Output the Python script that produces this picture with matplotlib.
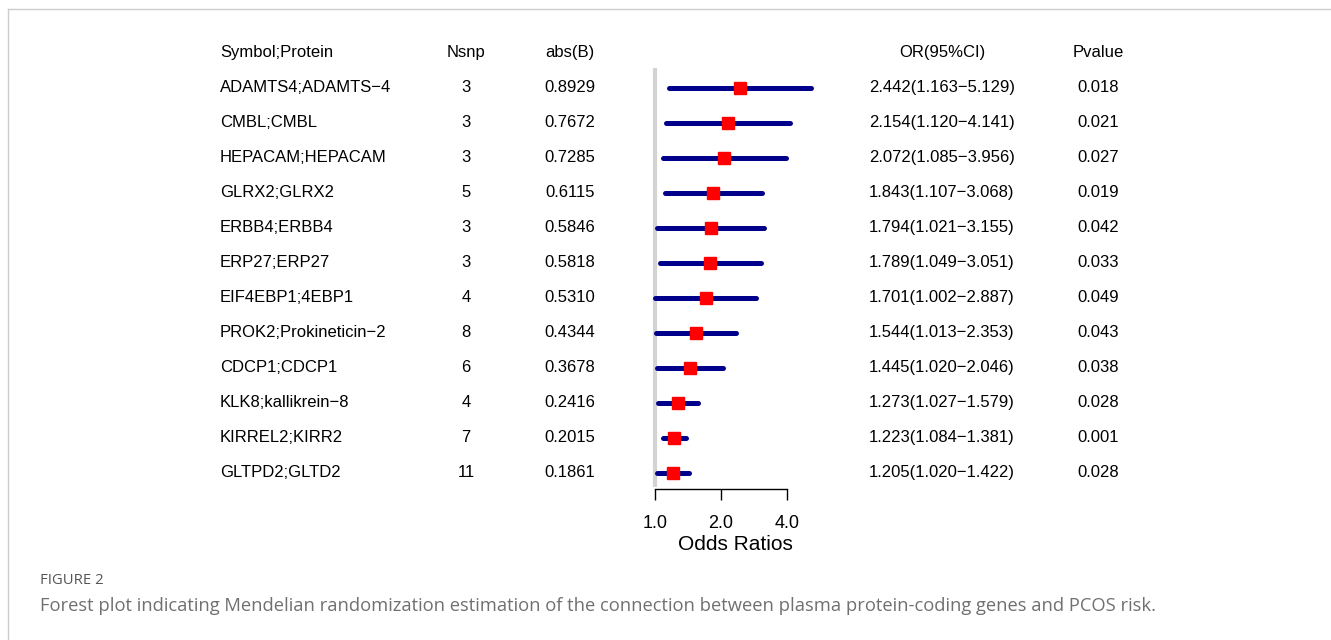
import numpy as np
import matplotlib.pyplot as plt
from matplotlib import transforms
from matplotlib.lines import Line2D

plt.rcParams['font.family'] = ['Liberation Sans', 'DejaVu Sans']

# data
symbols = ['ADAMTS4;ADAMTS\u22124', 'CMBL;CMBL', 'HEPACAM;HEPACAM', 'GLRX2;GLRX2',
           'ERBB4;ERBB4', 'ERP27;ERP27', 'EIF4EBP1;4EBP1', 'PROK2;Prokineticin\u22122',
           'CDCP1;CDCP1', 'KLK8;kallikrein\u22128', 'KIRREL2;KIRR2', 'GLTPD2;GLTD2']
nsnp = [3, 3, 3, 5, 3, 3, 4, 8, 6, 4, 7, 11]
absb = ['0.8929', '0.7672', '0.7285', '0.6115', '0.5846', '0.5818',
        '0.5310', '0.4344', '0.3678', '0.2416', '0.2015', '0.1861']
odds = [2.442, 2.154, 2.072, 1.843, 1.794, 1.789, 1.701, 1.544, 1.445, 1.273, 1.223, 1.205]
lower = [1.163, 1.120, 1.085, 1.107, 1.021, 1.049, 1.002, 1.013, 1.020, 1.027, 1.084, 1.020]
upper = [5.129, 4.141, 3.956, 3.068, 3.155, 3.051, 2.887, 2.353, 2.046, 1.579, 1.381, 1.422]
pvals = ['0.018', '0.021', '0.027', '0.019', '0.042', '0.033',
         '0.049', '0.043', '0.038', '0.028', '0.001', '0.028']
xticks = [1.0, 2.0, 4.0]

W, H = 1331, 640
fig = plt.figure(figsize=(W / 100, H / 100), dpi=100)

# forest panel, placed so that 1.0 sits at x=655px and 4.0 at x=787px
px_per_log2 = 66.0
left_px, right_px = 630, 840
top_px, bot_px = 60, 489
row0, step = 87.5, 35
ax = fig.add_axes([left_px / W, 1 - bot_px / H, (right_px - left_px) / W, (bot_px - top_px) / H])
ax.set_xscale('log', base=2)
ax.set_xlim(2 ** ((left_px - 655) / px_per_log2), 2 ** ((right_px - 655) / px_per_log2))
ax.set_ylim((bot_px - row0) / step, (top_px - row0) / step)

rows = np.arange(len(symbols))
ax.vlines(1.0, (68 - row0) / step, (487 - row0) / step, color='#d3d3d3', lw=3, zorder=1)
ci = ax.hlines(rows, lower, upper, color='#00008b', lw=3.6, zorder=2)
ci.set_capstyle('round')
ax.plot(odds, rows, 's', color='#ff0000', ms=9, zorder=3)

for s in ['top', 'right', 'left']:
    ax.spines[s].set_visible(False)
ax.spines['bottom'].set_bounds(1.0, 4.0)
ax.spines['bottom'].set_linewidth(1.0)
ax.set_yticks([])
ax.set_xticks(xticks)
ax.set_xticklabels(['%.1f' % t for t in xticks], fontsize=13)
ax.minorticks_off()
ax.tick_params(axis='x', length=8, width=1.0, pad=11)
ax.set_xlabel('Odds Ratios', fontsize=15, labelpad=2)
ax.patch.set_alpha(0)

# table columns
tr = transforms.blended_transform_factory(fig.transFigure, ax.transData)
fs = 12
hdr_y = (52.5 - row0) / step
ax.text(220 / W, hdr_y, 'Symbol;Protein', transform=tr, ha='left', va='center', fontsize=fs)
ax.text(466 / W, hdr_y, 'Nsnp', transform=tr, ha='center', va='center', fontsize=fs)
ax.text(570 / W, hdr_y, 'abs(B)', transform=tr, ha='center', va='center', fontsize=fs)
ax.text(942 / W, hdr_y, 'OR(95%CI)', transform=tr, ha='center', va='center', fontsize=fs)
ax.text(1098 / W, hdr_y, 'Pvalue', transform=tr, ha='center', va='center', fontsize=fs)
for i in rows:
    ax.text(220 / W, i, symbols[i], transform=tr, ha='left', va='center', fontsize=fs)
    ax.text(466 / W, i, str(nsnp[i]), transform=tr, ha='center', va='center', fontsize=fs)
    ax.text(570 / W, i, absb[i], transform=tr, ha='center', va='center', fontsize=fs)
    ax.text(942 / W, i, '%.3f(%.3f\u2212%.3f)' % (odds[i], lower[i], upper[i]),
            transform=tr, ha='center', va='center', fontsize=fs)
    ax.text(1098 / W, i, pvals[i], transform=tr, ha='center', va='center', fontsize=fs)

# card border and caption
fig.add_artist(Line2D([8 / W, 1], [1 - 9 / H, 1 - 9 / H], color='#cccccc', lw=1))
fig.add_artist(Line2D([8 / W, 8 / W], [0, 1 - 9 / H], color='#cccccc', lw=1))
fig.text(40 / W, 1 - 580 / H, 'FIGURE 2', fontsize=10.7, color='#555555',
         family=['Open Sans', 'DejaVu Sans'], va='center')
fig.text(40 / W, 1 - 606 / H,
         'Forest plot indicating Mendelian randomization estimation of the connection '
         'between plasma protein-coding genes and PCOS risk.',
         fontsize=13.2, color='#707070', family=['Open Sans', 'DejaVu Sans'], va='center')

fig.savefig('out.png', dpi=100)
